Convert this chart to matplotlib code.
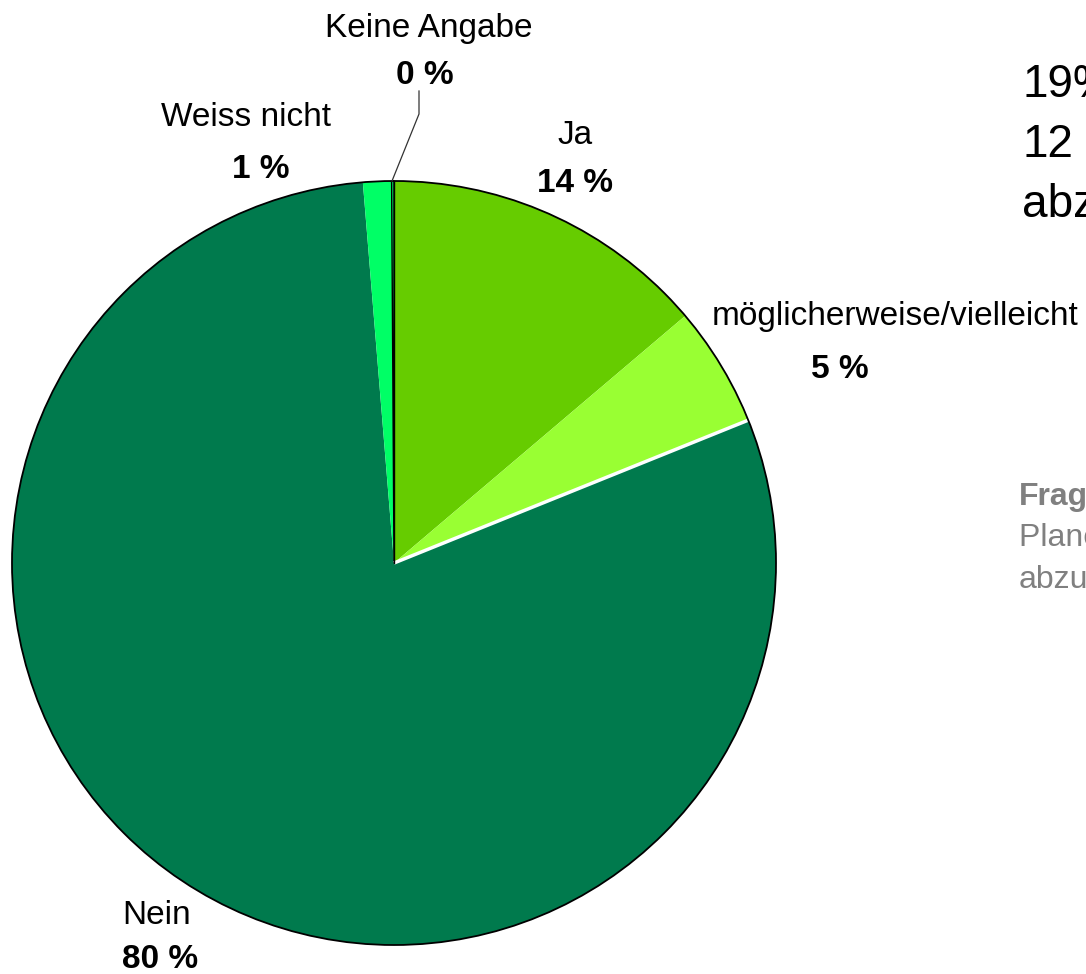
import matplotlib
matplotlib.use("Agg")
import matplotlib.pyplot as plt
from matplotlib.patches import Circle
import numpy as np

plt.rcParams['font.family'] = ['Liberation Sans', 'DejaVu Sans']

# Data (clockwise from 12 o'clock)
categories = ["Ja", "möglicherweise/vielleicht", "Nein", "Weiss nicht", "Keine Angabe"]
values = [13.8, 5.1, 79.8, 1.2, 0.1]
value_labels = ["14 %", "5 %", "80 %", "1 %", "0 %"]
colors = ["#66CC00", "#99FF33", "#007A4D", "#00FF66", "#00FF66"]

headline = ["19%", "12", "abz"]
question = ["Frage:", "Planen Sie", "abzuschliessen?"]

W, H = 1086, 974
fig = plt.figure(figsize=(W / 100, H / 100), dpi=100)
ax = fig.add_axes([0, 0, 1, 1])

cx, cy, R = 394, H - 563, 382

wedges, _ = ax.pie(values, colors=colors, startangle=90, counterclock=False,
                   center=(cx, cy), radius=R,
                   wedgeprops=dict(linewidth=0, edgecolor="none"))
# Keine Angabe slice as a thin black line
wedges[4].set_edgecolor("black")
wedges[4].set_linewidth(1.0)

# white separator between möglicherweise and Nein
ang = np.deg2rad(90 - 360 * (values[0] + values[1]) / 100)
ax.plot([cx, cx + R * np.cos(ang)], [cy, cy + R * np.sin(ang)], color="white", lw=2.5,
        solid_capstyle="butt", zorder=3)
# black separator at top (Ja start)
ax.plot([cx, cx], [cy, cy + R], color="black", lw=1.0, zorder=3)
ax.add_patch(Circle((cx, cy), R, fill=False, edgecolor="black", lw=1.3, zorder=4))

ax.set_xlim(0, W)
ax.set_ylim(0, H)
ax.set_aspect("auto")
ax.axis("off")

fs = 24
label_pos = {
    "Ja": (575, 135, 575, 183),
    "möglicherweise/vielleicht": (895, 317, 840, 369),
    "Nein": (157, 915, 160, 960),
    "Weiss nicht": (246, 117, 261, 170),
    "Keine Angabe": (429, 29, 425, 76),
}
for cat, vl in zip(categories, value_labels):
    x1, y1, x2, y2 = label_pos[cat]
    ax.text(x1, H - y1, cat, ha="center", va="center", fontsize=fs, color="black")
    ax.text(x2, H - y2, vl, ha="center", va="center", fontsize=fs, fontweight="bold", color="black")

# leader line for Keine Angabe
ax.plot([392, 419, 419], [H - 181, H - 114, H - 91], color="#333333", lw=0.9, zorder=5)

# right-side text (cut off by the figure edge)
for i, t in enumerate(headline):
    ax.text(1022, H - (97 + 60 * i), t, ha="left", va="baseline", fontsize=33, color="black")
for i, t in enumerate(question):
    ax.text(1019, H - (505 + 41.5 * i), t, ha="left", va="baseline", fontsize=23, color="#808080",
            fontweight="bold" if i == 0 else "normal")

fig.savefig("out.png", dpi=100)
